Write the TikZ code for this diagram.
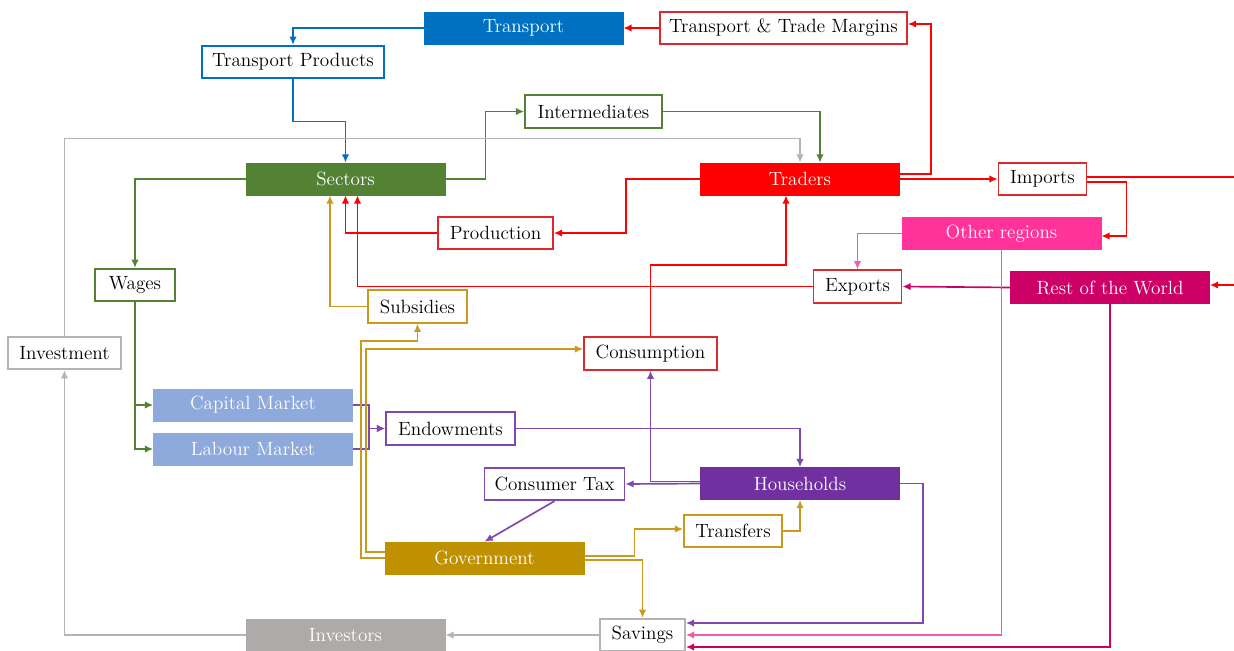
\documentclass[tikz,border=0pt]{standalone}
\usepackage{tikz}
\usetikzlibrary{calc}
\usetikzlibrary{positioning,arrows.meta}

\definecolor{trblue}{HTML}{0070C0}
\definecolor{secgreen}{HTML}{548235}
\definecolor{trred}{HTML}{FF0000}
\definecolor{boxred}{HTML}{D92B2B}
\definecolor{othpink}{HTML}{FF3399}
\definecolor{pinkline}{HTML}{F25AAE}
\definecolor{rowmag}{HTML}{CC0066}
\definecolor{mktblue}{HTML}{8EA9DB}
\definecolor{hhpurple}{HTML}{7030A0}
\definecolor{purpline}{HTML}{7F48B0}
\definecolor{govgold}{HTML}{BF9000}
\definecolor{goldline}{HTML}{C99A1C}
\definecolor{invgray}{HTML}{AEAAAA}
\definecolor{grayline}{HTML}{B4B4B4}

\tikzset{
    solidbox/.style={
        draw=#1, fill=#1, text=white,
        minimum width=119.4pt, minimum height=19.2pt,
        inner sep=0pt, align=center
    },
    linebox/.style={
        draw=#1, fill=white, text=black, line width=1pt,
        minimum height=19.5pt, inner xsep=3pt, inner ysep=0pt, align=center
    },
    flow/.style={
        draw=#1, line width=1pt, -{Latex[length=5pt,width=4.5pt]}
    }
}

\begin{document}
\begin{tikzpicture}[
    x=0.6pt, y=-0.6pt,
    font=\fontsize{11.5}{13}\selectfont
]

\useasboundingbox (0,0) rectangle (1234,650);

% ===============================================================
% ==== Transport / Trade ====
% ===============================================================
\node[solidbox=trblue] (transport) at (523.5,28) {Transport};
\node[linebox=boxred, minimum width=148.2pt] (margins) at (783.5,28) {Transport \& Trade Margins};
\node[linebox=trblue, minimum width=109.2pt] (tprod) at (293,62) {Transport Products};
\node[linebox=secgreen, minimum width=82.2pt] (interm) at (593.5,111.5) {Intermediates};

\node[solidbox=secgreen] (sectors) at (345.5,179) {Sectors};
\node[solidbox=trred] (traders) at (800,179) {Traders};
\node[linebox=boxred, minimum width=52.8pt] (imports) at (1042.5,179) {Imports};
\node[linebox=boxred, minimum width=69pt] (production) at (495.5,233) {Production};

% ===============================================================
% ==== Regions ====
% ===============================================================
\node[solidbox=othpink] (others) at (1001.5,233.5) {Other regions};
\node[linebox=boxred, minimum width=52.8pt] (exports) at (857.5,286.5) {Exports};
\node[solidbox=rowmag] (world) at (1110,287.5) {Rest of the World};

% ===============================================================
% ==== Factors / Agents ====
% ===============================================================
\node[linebox=secgreen, minimum width=48pt] (wages) at (135,285) {Wages};
\node[linebox=goldline, minimum width=59.4pt] (subsidies) at (417.5,306.5) {Subsidies};
\node[linebox=grayline, minimum width=67.8pt] (investment) at (64.5,353) {Investment};
\node[linebox=boxred, minimum width=79.8pt] (consumption) at (650.5,353.5) {Consumption};

\node[solidbox=mktblue] (capmkt) at (253,405) {Capital Market};
\node[solidbox=mktblue, below=26.4pt of capmkt.center, anchor=center] (labmkt) {Labour Market};
\node[linebox=purpline, minimum width=77.4pt] (endow) at (450.5,428.5) {Endowments};

\node[linebox=purpline, minimum width=84pt] (ctax) at (554.5,484) {Consumer Tax};
\node[solidbox=hhpurple] (households) at (800,483.5) {Households};
\node[linebox=goldline, minimum width=58.8pt] (transfers) at (733,531) {Transfers};
\node[solidbox=govgold] (government) at (484.5,558) {Government};

\node[linebox=grayline, minimum width=51pt] (savings) at (642.5,635) {Savings};
\node[solidbox=invgray] (investors) at (345.5,635) {Investors};

% 箭头
% ===== transport chain =====
\draw[flow=trblue] (transport.west) -| (tprod.north);
\draw[flow=trblue] (tprod.south) -- ++(0,42.5) -| (sectors.north);
\draw[flow=trred] (margins.west) -- (transport.east);
\draw[flow=trred] ([yshift=3pt]traders.east) -- ++(31,0) |- ([yshift=2.4pt]margins.east);

% ===== traders / imports =====
\draw[flow=trred] (traders.east) -- (imports.west);
\draw[flow=trred] ([yshift=-1.8pt]imports.east) -- ++(39,0) |- ([yshift=-1.5pt]others.east);
\draw[flow=trred] ([yshift=1.2pt]imports.east) -- ++(160,0) |- ([yshift=1.5pt]world.east);
\draw[flow=trred] (traders.west) -- ++(-74,0) |- (production.east);
\draw[flow=trred] (production.west) -| (sectors.south);
\draw[flow=trred] (exports.west) -| ([xshift=7.2pt]sectors.south);
\draw[flow=trred] (consumption.north) -- ++(0,-71.5) -| ([xshift=-8.4pt]traders.south);

% ===== exports =====
\draw[flow=pinkline] (others.west) -| (exports.north);
\draw[flow=rowmag] (world.west) -- (exports.east);

% ===== sectors =====
\draw[flow=secgreen] (sectors.east) -- ++(40,0) |- (interm.west);
\draw[flow=secgreen] (interm.east) -| ([xshift=12pt]traders.north);
\draw[flow=secgreen] (sectors.west) -| (wages.north);
\draw[flow=secgreen] (wages.south) |- (capmkt.west);
\draw[flow=secgreen] (wages.south) |- (labmkt.west);
\draw[flow=grayline] (investment.north) -- ++(0,-197.5) -| (traders.north);

% ===== factor markets -> households =====
\draw[flow=purpline] (capmkt.east) -- ++(16,0) |- (endow.west);
\draw[flow=purpline] (labmkt.east) -- ++(16,0) |- (endow.west);
\draw[flow=purpline] (endow.east) -| (households.north);
\draw[flow=purpline] ([yshift=1.2pt]households.west) -| (consumption.south);
\draw[flow=purpline] (households.west) -- (ctax.east);
\draw[flow=purpline] (ctax.south) -- (government.north);

% ===== government =====
\draw[flow=goldline] (government.west) -- ++(-24,0) -- ++(0,-217) -| (subsidies.south);
\draw[flow=goldline] ([yshift=3.6pt]government.west) -- ++(-19,0) |- ([yshift=2.7pt]consumption.west);
\draw[flow=goldline] (subsidies.west) -| ([xshift=-9.3pt]sectors.south);
\draw[flow=goldline] ([yshift=1.2pt]government.east) -- ++(50,0) |- ([yshift=1.2pt]transfers.west);
\draw[flow=goldline] ([yshift=-1.2pt]government.east) -| (savings.north);
\draw[flow=goldline] (transfers.east) -| (households.south);

% ===== savings =====
\draw[flow=purpline] (households.east) -- ++(23,0) |- ([yshift=7.2pt]savings.east);
\draw[flow=pinkline] (others.south) |- (savings.east);
\draw[flow=rowmag] (world.south) |- ([yshift=-7.2pt]savings.east);
\draw[flow=grayline] (savings.west) -- (investors.east);
\draw[flow=grayline] (investors.west) -| (investment.south);

\end{tikzpicture}
\end{document}
